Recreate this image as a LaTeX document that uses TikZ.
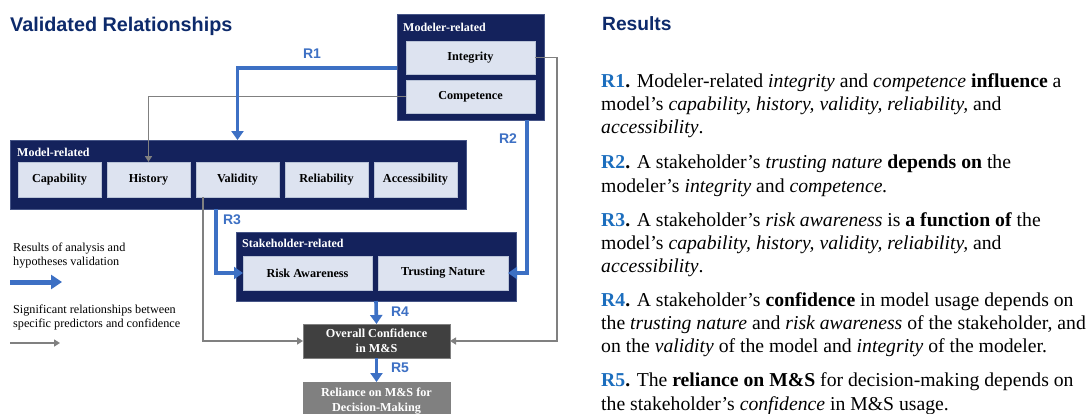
\documentclass[tikz,border=0pt]{standalone}
\usepackage{fontspec}
\setmainfont{Liberation Serif}
\newfontfamily\arialfont{Liberation Sans}
\usetikzlibrary{arrows.meta}
\definecolor{navy}{RGB}{20,34,92}
\definecolor{navyedge}{RGB}{70,85,135}
\definecolor{lightbox}{RGB}{221,227,240}
\definecolor{lightedge}{RGB}{185,195,215}
\definecolor{arrowblue}{RGB}{61,112,196}
\definecolor{lineGray}{RGB}{128,128,128}
\definecolor{darkfill}{RGB}{64,64,64}
\definecolor{midfill}{RGB}{128,128,128}
\definecolor{titlenavy}{RGB}{13,42,107}
\definecolor{rblue}{RGB}{28,110,190}
\begin{document}
\begin{tikzpicture}[x=1pt,y=-1pt,
  outerbox/.style={fill=navy,draw=navyedge,line width=0.6pt,anchor=north west,inner sep=0pt,outer sep=0pt},
  innerbox/.style={fill=lightbox,draw=lightedge,line width=0.6pt,anchor=north west,inner sep=0pt,outer sep=0pt,
    font=\fontsize{12.2}{14}\selectfont\bfseries,text=black},
  grouplabel/.style={anchor=west,inner sep=0pt,text=white,font=\fontsize{12}{14}\selectfont\bfseries},
  resultbox/.style={anchor=north west,inner sep=0pt,outer sep=0pt,align=center,text=white,
    font=\fontsize{12.2}{15}\selectfont\bfseries,minimum width=147pt},
  bluearrow/.style={draw=arrowblue,line width=3.6pt,-{Triangle[width=12pt,length=9pt]}},
  grayarrow/.style={draw=lineGray,line width=1.6pt,-{Triangle[width=7pt,length=6pt]}},
  rlabel/.style={text=arrowblue,font=\arialfont\fontsize{14}{16}\selectfont\bfseries,inner sep=0pt},
  heading/.style={anchor=base west,inner sep=0pt,text=titlenavy,font=\arialfont\bfseries},
  legendtext/.style={anchor=north west,inner sep=0pt,align=left,font=\fontsize{12.2}{14}\selectfont},
  para/.style={anchor=north west,inner sep=0pt,align=left,font=\fontsize{19.7}{23.3}\selectfont}
]
\clip (0,0) rectangle (1088,413);
\fill[white] (0,0) rectangle (1088,413);

% headings
\node[heading,font=\arialfont\fontsize{19.8}{22}\selectfont\bfseries] (t1) at (10,31) {Validated Relationships};
\node[heading,font=\arialfont\fontsize{19.2}{22}\selectfont\bfseries] (t2) at (602,30.5) {Results};

% modeler-related
\node[outerbox,minimum width=147pt,minimum height=106pt] (modeler) at (397,14) {};
\node[grouplabel] (modelerlab) at (403,27) {Modeler-related};
\node[innerbox,minimum width=129pt,minimum height=33pt] (integrity) at (406,41) {Integrity};
\node[innerbox,minimum width=129pt,minimum height=33pt] (competence) at (406,80) {Competence};

% model-related
\node[outerbox,minimum width=456pt,minimum height=69pt] (model) at (10,140) {};
\node[grouplabel] (modellab) at (17,152) {Model-related};
\node[innerbox,minimum width=83pt,minimum height=35pt] (capability) at (18,162) {Capability};
\node[innerbox,minimum width=83pt,minimum height=35pt] (history) at (107,162) {History};
\node[innerbox,minimum width=83pt,minimum height=35pt] (validity) at (196,162) {Validity};
\node[innerbox,minimum width=83pt,minimum height=35pt] (reliability) at (285,162) {Reliability};
\node[innerbox,minimum width=83pt,minimum height=35pt] (accessibility) at (374,162) {Accessibility};

% stakeholder-related
\node[outerbox,minimum width=280pt,minimum height=69pt] (stake) at (236,232) {};
\node[grouplabel] (stakelab) at (242,243) {Stakeholder-related};
\node[innerbox,minimum width=129pt,minimum height=34pt] (risk) at (243,256) {Risk Awareness};
\node[innerbox,minimum width=130pt,minimum height=34pt] (trusting) at (378,256) {Trusting Nature};

% outcomes
\node[resultbox,fill=darkfill,draw=lineGray,line width=0.6pt,minimum height=34pt] (overall) at (303,324) {Overall Confidence\\in M\&S};
\node[resultbox,fill=midfill,draw=lineGray,line width=0.6pt,minimum height=38pt] (reliance) at (303,382) {Reliance on M\&S for\\Decision-Making};

% connectors
\draw[grayarrow] (competence.west) -| (history.north);
\draw[grayarrow] (integrity.east) -- (integrity.east -| 557,0) |- (overall.east);
\draw[grayarrow] (validity.south -| 203,0) |- (overall.west);
\draw[bluearrow] (modeler.west |- 0,68) -| (validity.north |- model.north);
\draw[bluearrow] (modeler.south -| 527,0) |- (trusting.east);
\draw[bluearrow] (model.south -| 216,0) |- (risk.west);
\draw[bluearrow] (stake.south) -- (overall.north);
\draw[bluearrow] (overall.south) -- (reliance.north);

\node[rlabel] (r1) at (312,54) {R1};
\node[rlabel] (r2) at (508,139) {R2};
\node[rlabel] (r3) at (232,220) {R3};
\node[rlabel] (r4) at (400,312) {R4};
\node[rlabel] (r5) at (400,368) {R5};

% legend
\node[legendtext] (leg1) at (13,243) {Results of analysis and\\hypotheses validation};
\coordinate (lb1) at (10,282);
\coordinate (lb2) at (62,282);
\draw[draw=arrowblue,line width=5pt,-{Triangle[width=14pt,length=11pt]}] (lb1) -- (lb2);
\node[legendtext] (leg2) at (13,305) {Significant relationships between\\specific predictors and confidence};
\coordinate (lg1) at (10,343);
\coordinate (lg2) at (60,343);
\draw[grayarrow] (lg1) -- (lg2);

% results text
\node[para] (p1) at (601,70.7) {\strut\textcolor{rblue}{\textbf{R1}}\textbf{.} Modeler-related \textit{integrity} and \textit{competence} \textbf{influence} a\\
model’s \textit{capability, history, validity, reliability,} and\\
\textit{accessibility}.};
\node[para] (p2) at (601,152.2) {\strut\textcolor{rblue}{\textbf{R2}}\textbf{.} A stakeholder’s \textit{trusting nature} \textbf{depends on} the\\
modeler’s \textit{integrity} and \textit{competence.}};
\node[para] (p3) at (601,209.7) {\strut\textcolor{rblue}{\textbf{R3}}\textbf{.} A stakeholder’s \textit{risk awareness} is \textbf{a function of} the\\
model’s \textit{capability, history, validity, reliability,} and\\
\textit{accessibility}.};
\node[para] (p4) at (601,289.7) {\strut\textcolor{rblue}{\textbf{R4}}\textbf{.} A stakeholder’s \textbf{confidence} in model usage depends on\\
the \textit{trusting nature} and \textit{risk awareness} of the stakeholder, and\\
on the \textit{validity} of the model and \textit{integrity} of the modeler.};
\node[para] (p5) at (601,370.4) {\strut\textcolor{rblue}{\textbf{R5}}\textbf{.} The \textbf{reliance on M\&S} for decision-making depends on\\
the stakeholder’s \textit{confidence} in M\&S usage.};
\end{tikzpicture}
\end{document}
